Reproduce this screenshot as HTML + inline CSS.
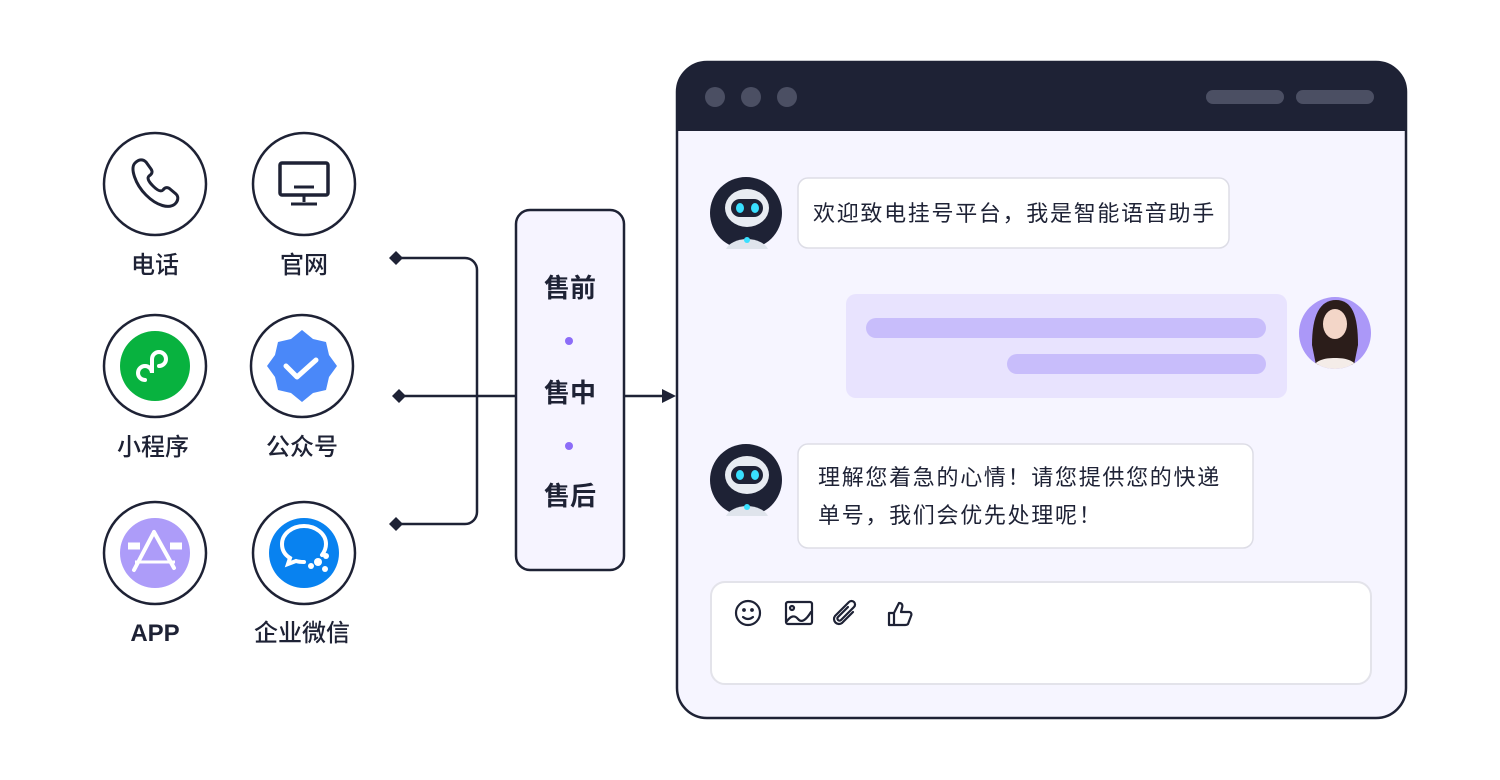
<!DOCTYPE html>
<html><head><meta charset="utf-8"><style>
html,body{margin:0;padding:0;background:#fff;}
svg{display:block;}
text{font-family:"Liberation Sans","Noto Sans CJK SC",sans-serif;}
</style></head><body>
<svg width="1500" height="780" viewBox="0 0 1500 780" xmlns="http://www.w3.org/2000/svg">
<defs><clipPath id="av"><circle cx="1335" cy="333" r="36"/></clipPath></defs>
<g fill="none" stroke="#1e2235" stroke-width="2.5">
<circle cx="155" cy="184" r="51"/><circle cx="304" cy="184" r="51"/>
<circle cx="155" cy="366" r="51"/><circle cx="302" cy="366" r="51"/>
<circle cx="155" cy="553" r="51"/><circle cx="304" cy="553" r="51"/>
</g>
<path d="M135 163c4-4 8-4 11-1l5 7c2 3 1 5-2 7-2 2-1 5 4 10s8 6 10 4c2-3 5-3 7-1l6 5c3 3 2 7-1 10-6 5-18 2-29-9s-16-27-11-32z" fill="none" stroke="#1e2235" stroke-width="3" stroke-linejoin="round"/>
<rect x="280" y="163" width="48" height="32" rx="2" fill="none" stroke="#1e2235" stroke-width="3.5"/>
<line x1="294" y1="187" x2="314" y2="187" stroke="#1e2235" stroke-width="3"/>
<line x1="304" y1="195" x2="304" y2="202" stroke="#1e2235" stroke-width="3"/>
<line x1="291" y1="204" x2="317" y2="204" stroke="#1e2235" stroke-width="3"/>
<circle cx="155" cy="366" r="35" fill="#08b23f"/>
<path d="M145 380a7 7 0 1 1 7-7v-14a7 7 0 1 1 7 7" fill="none" stroke="#fff" stroke-width="4" stroke-linecap="round"/>
<polygon points="302,330 313,339 326,342 329,355 337,366 329,377 326,390 313,393 302,402 291,393 278,390 275,377 267,366 275,355 278,342 291,339" fill="#4a88f9"/>
<path d="M286 366l11 11 19-17" fill="none" stroke="#fff" stroke-width="5" stroke-linecap="round" stroke-linejoin="round"/>
<circle cx="155" cy="553" r="35" fill="#ad9cf9"/>
<path d="M128 546h12M170 546h12" stroke="#fff" stroke-width="7"/>
<path d="M134 570l20-38M154 532l20 36" stroke="#fff" stroke-width="4" stroke-linecap="round"/>
<path d="M135 562h40" stroke="#fff" stroke-width="3"/>
<circle cx="304" cy="553" r="35" fill="#0882f0"/>
<path d="M322 555c3-4 4-7 4-11 0-10-10-18-22-18s-22 8-22 18c0 6 3 11 8 14l-2 6 8-3c3 1 5 1 8 1" fill="none" stroke="#fff" stroke-width="4" stroke-linecap="round"/>
<circle cx="318" cy="562" r="4" fill="#fff"/><circle cx="326" cy="556" r="3" fill="#fff"/><circle cx="325" cy="569" r="3" fill="#fff"/><circle cx="311" cy="566" r="3" fill="#fff"/>
<g font-size="24" fill="#1e2235" text-anchor="middle" font-weight="500">
<text x="155" y="273">电话</text><text x="304" y="273">官网</text>
<text x="153" y="455">小程序</text><text x="302" y="455">公众号</text>
<text x="155" y="641" font-weight="bold">APP</text><text x="302" y="641">企业微信</text>
</g>
<g stroke="#1e2235" stroke-width="2.5" fill="none">
<path d="M396 258H465a12 12 0 0 1 12 12V512a12 12 0 0 1 -12 12H396"/>
<path d="M399 396H516"/>
<path d="M624 396H664"/>
</g>
<g fill="#1e2235">
<polygon points="389,258 396,251 403,258 396,265"/>
<polygon points="392,396 399,389 406,396 399,403"/>
<polygon points="389,524 396,517 403,524 396,531"/>
<polygon points="676,396 662,389 662,403"/>
</g>
<rect x="516" y="210" width="108" height="360" rx="14" fill="#f6f4ff" stroke="#1e2235" stroke-width="2.5"/>
<g font-size="26" fill="#1e2235" text-anchor="middle" font-weight="bold">
<text x="570" y="297">售前</text><text x="570" y="402">售中</text><text x="570" y="505">售后</text>
</g>
<circle cx="569" cy="341" r="4" fill="#8c6cf8"/><circle cx="569" cy="446" r="4" fill="#8c6cf8"/>
<rect x="677" y="62" width="729" height="656" rx="30" fill="#f6f5ff" stroke="#1e2235" stroke-width="2.5"/>
<path d="M677 131V92a30 30 0 0 1 30-30H1376a30 30 0 0 1 30 30V131z" fill="#1e2235"/>
<g fill="#4b4f63"><circle cx="715" cy="97" r="10"/><circle cx="751" cy="97" r="10"/><circle cx="787" cy="97" r="10"/>
<rect x="1206" y="90" width="78" height="14" rx="7"/><rect x="1296" y="90" width="78" height="14" rx="7"/></g>
<g id="rb">
<circle cx="746" cy="213" r="36" fill="#1e2235"/>
<ellipse cx="747" cy="208" rx="22" ry="19" fill="#e8ecf2"/>
<rect x="731" y="199" width="32" height="18" rx="9" fill="#1e2235"/>
<ellipse cx="740" cy="208" rx="4" ry="5" fill="#39e0ff"/><ellipse cx="755" cy="208" rx="4" ry="5" fill="#39e0ff"/>
<path d="M726 249a22 14 0 0 1 42 0z" fill="#dfe4ec"/>
<circle cx="747" cy="240" r="3" fill="#39e0ff"/>
</g>
<use href="#rb" y="267"/>
<rect x="798" y="178" width="431" height="70" rx="10" fill="#fff" stroke="#dddde6" stroke-width="1.5"/>
<rect x="798" y="444" width="455" height="104" rx="10" fill="#fff" stroke="#dddde6" stroke-width="1.5"/>
<g font-size="22" fill="#1e2235" letter-spacing="1.7">
<text x="813" y="221">欢迎致电挂号平台，我是智能语音助手</text>
<text x="818" y="485">理解您着急的心情！请您提供您的快递</text>
<text x="818" y="523">单号，我们会优先处理呢！</text>
</g>
<rect x="846" y="294" width="441" height="104" rx="10" fill="#e8e3fe"/>
<rect x="866" y="318" width="400" height="20" rx="10" fill="#c8bdfb"/>
<rect x="1007" y="354" width="259" height="20" rx="10" fill="#c8bdfb"/>
<circle cx="1335" cy="333" r="36" fill="#ab98f8"/>
<g clip-path="url(#av)">
<path d="M1312 345c0-30 8-45 24-45s22 15 22 45l-4 20h-38z" fill="#2b1d1a"/>
<ellipse cx="1335" cy="324" rx="12" ry="15" fill="#f3d6c8"/>
<path d="M1310 372c4-12 14-14 25-14s21 2 25 14z" fill="#f4ece8"/>
</g>
<rect x="711" y="582" width="660" height="102" rx="14" fill="#fff" stroke="#e3e3ea" stroke-width="2"/>
<g fill="none" stroke="#1e2235" stroke-width="2.2" stroke-linecap="round" stroke-linejoin="round">
<circle cx="748" cy="613" r="12"/><circle cx="744" cy="610" r="0.8" fill="#1e2235"/><circle cx="752" cy="610" r="0.8" fill="#1e2235"/><path d="M743 617q5 4 10 0"/>
<rect x="786" y="602" width="26" height="22" rx="2"/><circle cx="792" cy="608" r="2"/><path d="M787 621q6-8 11-2t13-7"/>
<path d="M853 612l-11 11a5 5 0 0 1-7-7l14-14a3.5 3.5 0 0 1 5 5l-13 13a2 2 0 0 1-3-3l10-10"/>
<path d="M889 613h5v12h-5zM894 613l5-10c3 0 4 2 3 5l-1 4h8c2 0 3 2 2 4l-3 8c-1 1-2 1-3 1h-11"/>
</g>
</svg>
</body></html>
